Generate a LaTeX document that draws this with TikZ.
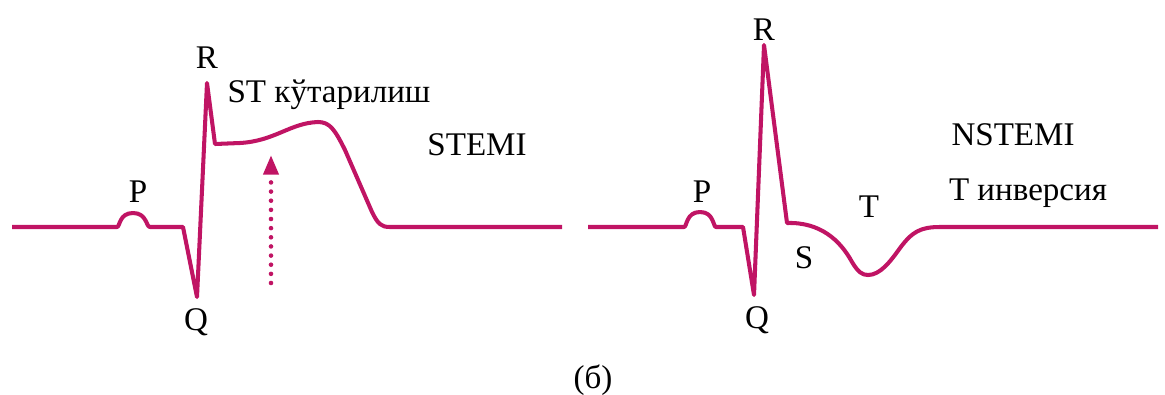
\documentclass[tikz,border=0pt]{standalone}
\usepackage{fontspec}
\setmainfont{Liberation Serif}
\usepackage{tikz}
\usetikzlibrary{arrows,arrows.meta}

\definecolor{ecg}{RGB}{192,20,100}

\begin{document}
\begin{tikzpicture}[>=stealth', x=0.01cm, y=-0.01cm,
    trace/.style={ecg, line width=1.15pt, line join=round},
    lbl/.style={inner sep=0pt, font=\fontsize{9.4}{11}\selectfont}]
    \useasboundingbox (0,0) rectangle (1165,394);

    % Left trace (STEMI)
    \draw[trace] (12,227) -- (117,227)
        .. controls (120,227) and (119,213) .. (133,213)
        .. controls (147,213) and (146,227) .. (150,227)
        -- (183,227) -- (197,297) -- (207,83) -- (215,144)
        -- (240,143) .. controls (275,141) and (290,123) .. (318,122)
        .. controls (330,122) and (335,130) .. (345,150)
        -- (372,212) .. controls (378,224) and (381,227) .. (390,227)
        -- (562,227);

    % Right trace (NSTEMI)
    \draw[trace] (588,227) -- (684,227)
        .. controls (687,227) and (686,212) .. (700,212)
        .. controls (714,212) and (713,227) .. (716,227)
        -- (743,227) -- (754,295) -- (764,45) -- (787,223)
        .. controls (820,222) and (840,240) .. (852,262)
        .. controls (858,272) and (862,275) .. (868,275)
        .. controls (880,275) and (890,262) .. (900,248)
        .. controls (912,232) and (920,227) .. (940,227)
        -- (1158,227);

    % Dotted arrow under the ST segment
    \coordinate (stBase) at (271,283);
    \coordinate (stTop) at (271,155);
    \draw[ecg, -{Triangle[length=5.6pt,width=4.2pt]}, line width=1.3pt, line cap=round, dash pattern=on 0pt off 2.6pt] (stBase) -- (stTop);

    % Labels of the left trace
    \node[lbl] (pLeft) at (138,192) {P};
    \node[lbl] (qLeft) at (196,322) {Q};
    \node[lbl] (rLeft) at (207,58) {R};
    \node[lbl] (stUp) at (329,95) {ST кўтарилиш};
    \node[lbl] (stemi) at (477,145) {STEMI};

    % Labels of the right trace
    \node[lbl] (pRight) at (702,192) {P};
    \node[lbl] (qRight) at (757,320) {Q};
    \node[lbl] (rRight) at (764,30) {R};
    \node[lbl] (sRight) at (804,258) {S};
    \node[lbl] (tRight) at (869,207) {T};
    \node[lbl] (nstemi) at (1013,135) {NSTEMI};
    \node[lbl] (tInv) at (1028,193) {T инверсия};

    % Caption
    \node[lbl] (caption) at (593,380) {(б)};
\end{tikzpicture}
\end{document}
